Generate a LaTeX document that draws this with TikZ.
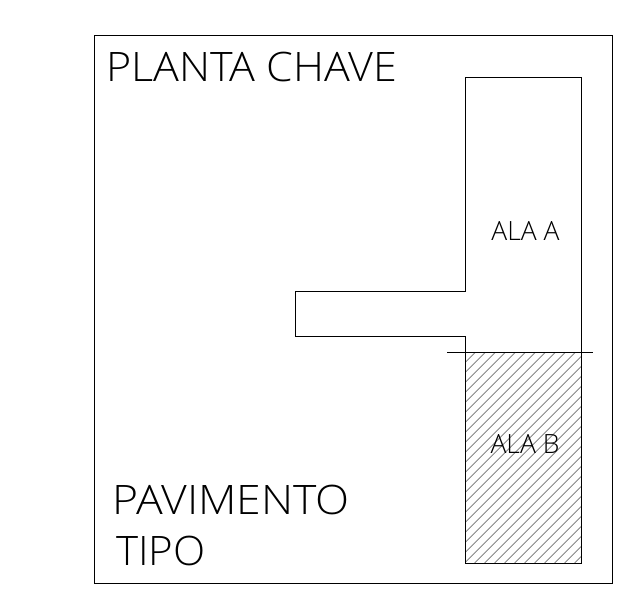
\documentclass[tikz,border=0pt]{standalone}
\usepackage{fontspec}
\setmainfont{Open Sans Light}
\tikzset{
  outline/.style={draw=black,line width=1pt},
  hatchline/.style={draw=black!55,line width=0.7pt},
  bigtext/.style={anchor=base west,inner sep=0pt,text=black},
  smalltext/.style={anchor=base,inner sep=0pt,font=\fontsize{26.5}{30}\selectfont,text=black}
}
\begin{document}
\begin{tikzpicture}[x=1pt,y=-1pt]
\useasboundingbox (0,0) rectangle (631,607);
\fill[white] (0,0) rectangle (631,607);
\draw[outline] (94.5,35.5) rectangle (612,583);
\begin{scope}
\clip (465.5,352) rectangle (581,563);
\foreach \i in {0,...,34} {
  \draw[hatchline] ({465.5+\i*10-211},563) -- ({465.5+\i*10},352);
}
\end{scope}
\draw[outline] (465.5,78) -- (581,78) -- (581,563) -- (465.5,563) -- (465.5,336.5) -- (295.3,336.5) -- (295.3,291) -- (465.5,291) -- cycle;
\draw[outline] (447,352) -- (593,352);
\node[bigtext,font=\fontsize{40.6}{48}\selectfont\addfontfeature{FakeStretch=1.06}] (planta) at (106,82) {PLANTA CHAVE};
\node[bigtext,font=\fontsize{40.6}{48}\selectfont\addfontfeature{FakeStretch=1.096}] (pav) at (112.5,514) {PAVIMENTO};
\node[bigtext,font=\fontsize{40.6}{48}\selectfont\addfontfeature{FakeStretch=1.035}] (tipo) at (116,565) {TIPO};
\node[smalltext] (alaa) at (525.5,240) {ALA A};
\node[smalltext] (alab) at (525,453) {ALA B};
\end{tikzpicture}
\end{document}
